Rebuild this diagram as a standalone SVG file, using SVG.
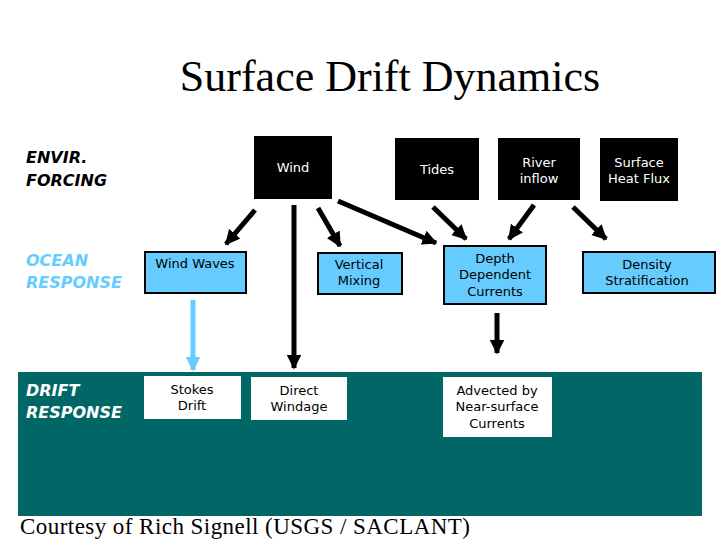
<svg xmlns="http://www.w3.org/2000/svg" width="720" height="540" viewBox="0 0 720 540">
<defs>
<style>
.t{font-family:"DejaVu Sans",Verdana,sans-serif;font-size:13px;text-anchor:middle}
.w{fill:#fff}.k{fill:#000}
.blk{fill:#000}
.blu{fill:#66ccff;stroke:#000;stroke-width:2}
.wht{fill:#fff}
.lab{font-family:"DejaVu Sans",Verdana,sans-serif;font-size:16px;font-weight:bold;font-style:italic}
.ar{stroke:#000;stroke-width:5;fill:none;marker-end:url(#ah)}
.arb{stroke:#66ccff;stroke-width:5;fill:none;marker-end:url(#ahb)}
</style>
<marker id="ah" viewBox="0 0 10 10" refX="9" refY="5" markerWidth="3" markerHeight="3.2" orient="auto"><path d="M0,0L10,5L0,10z" fill="#000"/></marker>
<marker id="ahb" viewBox="0 0 10 10" refX="9" refY="5" markerWidth="3" markerHeight="3.2" orient="auto"><path d="M0,0L10,5L0,10z" fill="#66ccff"/></marker>
</defs>
<rect width="720" height="540" fill="#fff"/>
<text x="390" y="91" font-family="Liberation Serif,serif" font-size="44" text-anchor="middle">Surface Drift Dynamics</text>
<rect x="18" y="372" width="684" height="144" fill="#006666"/>
<g id="labels">
<text class="lab" x="26" y="163">ENVIR.</text><text class="lab" x="26" y="186">FORCING</text>
<text class="lab" x="26" y="266" fill="#66ccff">OCEAN</text><text class="lab" x="26" y="288" fill="#66ccff">RESPONSE</text>
<text class="lab" x="26" y="396" fill="#fff">DRIFT</text><text class="lab" x="26" y="418" fill="#fff">RESPONSE</text>
</g>
<g id="connectors">
<line class="ar" x1="255" y1="210" x2="226" y2="244"/>
<line class="ar" x1="294" y1="205" x2="294" y2="368"/>
<line class="ar" x1="318" y1="208" x2="340" y2="246"/>
<line class="ar" x1="338" y1="201" x2="436" y2="243"/>
<line class="ar" x1="433" y1="207" x2="466" y2="239"/>
<line class="ar" x1="534" y1="205" x2="509" y2="239"/>
<line class="ar" x1="573" y1="207" x2="606" y2="239"/>
<line class="ar" x1="497" y1="313" x2="497" y2="353"/>
<line class="arb" x1="193" y1="300" x2="193" y2="370"/>
</g>
<g id="wind"><rect class="blk" x="254" y="136" width="78" height="63"/><text class="t w" x="293" y="172">Wind</text></g>
<g id="tides"><rect class="blk" x="395" y="138" width="84" height="62"/><text class="t w" x="437" y="174">Tides</text></g>
<g id="river"><rect class="blk" x="498" y="138" width="82" height="62"/><text class="t w" x="539" y="167">River</text><text class="t w" x="539" y="183">inflow</text></g>
<g id="heat"><rect class="blk" x="600" y="138" width="78" height="63"/><text class="t w" x="639" y="167">Surface</text><text class="t w" x="639" y="183">Heat Flux</text></g>
<g id="waves"><rect class="blu" x="145" y="252" width="101" height="41"/><text class="t" x="195" y="268">Wind Waves</text></g>
<g id="mixing"><rect class="blu" x="318" y="253" width="84" height="41"/><text class="t" x="359" y="269">Vertical</text><text class="t" x="359" y="285">Mixing</text></g>
<g id="depth"><rect class="blu" x="444" y="246" width="102" height="58"/><text class="t" x="495" y="263">Depth</text><text class="t" x="495" y="279">Dependent</text><text class="t" x="495" y="296">Currents</text></g>
<g id="density"><rect class="blu" x="583" y="252" width="132" height="41"/><text class="t" x="647" y="269">Density</text><text class="t" x="647" y="285">Stratification</text></g>
<g id="stokes"><rect class="wht" x="144" y="376" width="97" height="43"/><text class="t" x="192" y="394">Stokes</text><text class="t" x="192" y="410">Drift</text></g>
<g id="windage"><rect class="wht" x="251" y="377" width="96" height="43"/><text class="t" x="299" y="395">Direct</text><text class="t" x="299" y="411">Windage</text></g>
<g id="advected"><rect class="wht" x="443" y="377" width="109" height="60"/><text class="t" x="497" y="395">Advected by</text><text class="t" x="497" y="411">Near-surface</text><text class="t" x="497" y="428">Currents</text></g>
<text x="20" y="534" font-family="Liberation Serif,serif" font-size="23" textLength="450">Courtesy of Rich Signell (USGS / SACLANT)</text>
</svg>
